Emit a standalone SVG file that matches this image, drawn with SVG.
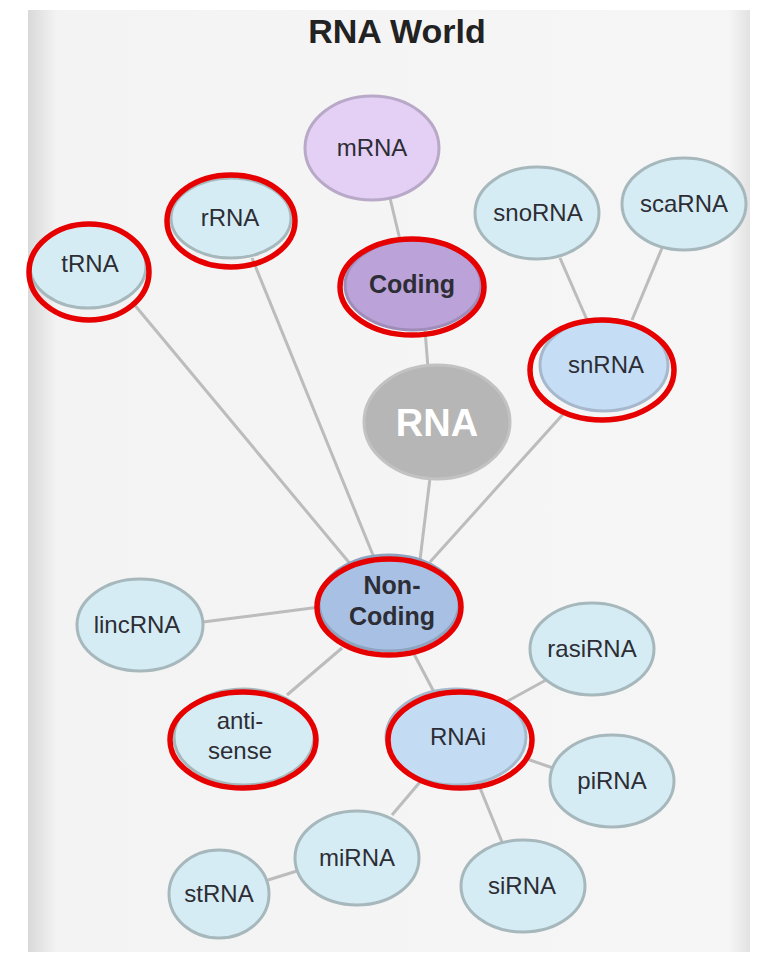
<svg xmlns="http://www.w3.org/2000/svg" width="758" height="957" viewBox="0 0 758 957">
<defs>
<linearGradient id="bg" x1="0" y1="0" x2="1" y2="0">
<stop offset="0" stop-color="#d9d9d9"/>
<stop offset="0.04" stop-color="#f3f3f3"/>
<stop offset="0.97" stop-color="#f6f6f6"/>
<stop offset="1" stop-color="#e2e2e2"/>
</linearGradient>
<style>
.lt{fill:#d5ecf4;stroke:#a7b8bd;stroke-width:3}
.lbl{font-family:"Liberation Sans",Arial,sans-serif;font-size:24px;fill:#2d2d35;text-anchor:middle}
.b{font-weight:bold}
.ring{fill:none;stroke:#e60000;stroke-width:5.5}
.edge{stroke:#bcbcbc;stroke-width:3;fill:none}
</style>
</defs>
<rect x="0" y="0" width="758" height="957" fill="#ffffff"/>
<rect x="28" y="10" width="722" height="942" fill="url(#bg)"/>
<text x="397" y="43" font-family="Liberation Sans,Arial,sans-serif" font-size="34" font-weight="bold" fill="#222" text-anchor="middle">RNA World</text>
<g id="connectors">
<line class="edge" x1="390" y1="198" x2="400" y2="240"/>
<line class="edge" x1="425" y1="330" x2="428" y2="368"/>
<line class="edge" x1="133" y1="303" x2="352" y2="566"/>
<line class="edge" x1="252" y1="258" x2="375" y2="560"/>
<line class="edge" x1="430" y1="478" x2="420" y2="560"/>
<line class="edge" x1="565" y1="412" x2="430" y2="562"/>
<line class="edge" x1="560" y1="258" x2="587" y2="320"/>
<line class="edge" x1="662" y1="248" x2="632" y2="320"/>
<line class="edge" x1="203" y1="622" x2="320" y2="607"/>
<line class="edge" x1="287" y1="695" x2="342" y2="648"/>
<line class="edge" x1="414" y1="654" x2="434" y2="692"/>
<line class="edge" x1="506" y1="702" x2="546" y2="680"/>
<line class="edge" x1="524" y1="758" x2="553" y2="768"/>
<line class="edge" x1="420" y1="782" x2="392" y2="815"/>
<line class="edge" x1="478" y1="783" x2="502" y2="842"/>
<line class="edge" x1="297" y1="871" x2="268" y2="880"/>
</g>
<g id="mRNA">
<ellipse cx="372" cy="148" rx="67" ry="52" fill="#e4d0f4" stroke="#b9a9c8" stroke-width="3"/>
<text class="lbl" x="372" y="156">mRNA</text>
</g>
<g id="rRNA">
<ellipse class="lt" cx="231" cy="218" rx="60" ry="40"/>
<text class="lbl" x="230" y="226">rRNA</text>
<ellipse class="ring" cx="231" cy="221" rx="64" ry="46"/>
</g>
<g id="tRNA">
<ellipse class="lt" cx="88" cy="266" rx="58" ry="42"/>
<text class="lbl" x="90" y="272">tRNA</text>
<ellipse class="ring" cx="89" cy="272" rx="60" ry="48"/>
</g>
<g id="Coding">
<ellipse cx="413" cy="285" rx="68" ry="45" fill="#bba2d9" stroke="#9f8cb8" stroke-width="3"/>
<text class="lbl b" x="412" y="293" style="font-size:25px">Coding</text>
<ellipse class="ring" cx="412" cy="287" rx="72" ry="48"/>
</g>
<g id="snoRNA">
<ellipse class="lt" cx="537" cy="213" rx="62" ry="46"/>
<text class="lbl" x="538" y="221">snoRNA</text>
</g>
<g id="scaRNA">
<ellipse class="lt" cx="684" cy="204" rx="62" ry="46"/>
<text class="lbl" x="684" y="212">scaRNA</text>
</g>
<g id="snRNA">
<ellipse cx="604" cy="365" rx="64" ry="46" fill="#c6def5" stroke="#a7b8cc" stroke-width="3"/>
<text class="lbl" x="606" y="373">snRNA</text>
<ellipse class="ring" cx="602" cy="370" rx="72" ry="50"/>
</g>
<g id="RNA">
<ellipse cx="437" cy="422" rx="73" ry="57" fill="#b6b6b6" stroke="#c2c2c2" stroke-width="3"/>
<text class="lbl b" x="437" y="436" style="font-size:38px;fill:#ffffff">RNA</text>
</g>
<g id="NonCoding">
<ellipse cx="389" cy="603" rx="70" ry="48" fill="#a8c0e3" stroke="#8ea3bf" stroke-width="3"/>
<text class="lbl b" x="392" y="594" style="font-size:25px">Non-</text>
<text class="lbl b" x="392" y="625" style="font-size:25px">Coding</text>
<ellipse class="ring" cx="389" cy="607" rx="72" ry="48"/>
</g>
<g id="lincRNA">
<ellipse class="lt" cx="140" cy="625" rx="63" ry="46"/>
<text class="lbl" x="137" y="633">lincRNA</text>
</g>
<g id="antisense">
<ellipse class="lt" cx="244" cy="737" rx="70" ry="48"/>
<text class="lbl" x="240" y="729">anti-</text>
<text class="lbl" x="240" y="759">sense</text>
<ellipse class="ring" cx="243" cy="740" rx="73" ry="48"/>
</g>
<g id="RNAi">
<ellipse cx="456" cy="737" rx="70" ry="48" fill="#c3dcf3" stroke="#a5b9cc" stroke-width="3"/>
<text class="lbl" x="458" y="745">RNAi</text>
<ellipse class="ring" cx="460" cy="740" rx="72" ry="48"/>
</g>
<g id="rasiRNA">
<ellipse class="lt" cx="592" cy="649" rx="62" ry="46"/>
<text class="lbl" x="592" y="657">rasiRNA</text>
</g>
<g id="piRNA">
<ellipse class="lt" cx="612" cy="781" rx="62" ry="46"/>
<text class="lbl" x="612" y="789">piRNA</text>
</g>
<g id="miRNA">
<ellipse class="lt" cx="357" cy="858" rx="62" ry="47"/>
<text class="lbl" x="357" y="866">miRNA</text>
</g>
<g id="siRNA">
<ellipse class="lt" cx="523" cy="886" rx="62" ry="46"/>
<text class="lbl" x="522" y="894">siRNA</text>
</g>
<g id="stRNA">
<ellipse class="lt" cx="219" cy="894" rx="50" ry="44"/>
<text class="lbl" x="219" y="902">stRNA</text>
</g>
</svg>
